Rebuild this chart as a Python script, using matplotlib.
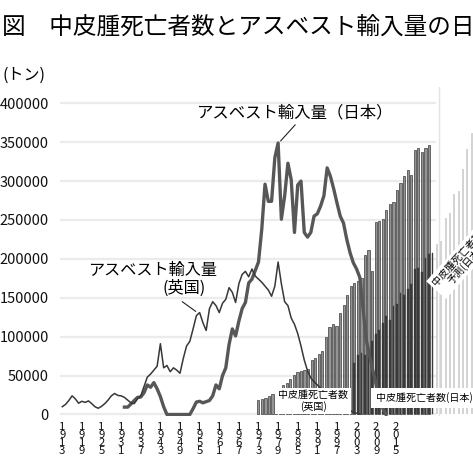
import numpy as np
import matplotlib
matplotlib.use("Agg")
import matplotlib.pyplot as plt

plt.rcParams['font.family'] = ['Noto Sans CJK JP', 'DejaVu Sans']

# ---------- data ----------
uk_import_years = np.arange(1913, 2005)
uk_import = [10000, 13000, 18000, 24000, 20000, 14500, 17000, 15500, 17500, 14000,
             10000, 8000, 10500, 14000, 18500, 24000, 27000, 24500, 24000, 22000,
             18500, 15000, 14000, 20000, 24000, 36000, 48000, 52000, 57000, 62000,
             91000, 60000, 63000, 55000, 60000, 57000, 53000, 72000, 88000, 94000,
             110000, 127000, 131000, 118000, 108000, 136000, 145000, 140000, 131000, 143000,
             148000, 163000, 157000, 144000, 168000, 180000, 184000, 177000, 187000, 178000,
             174000, 170000, 165000, 160000, 152000, 165000, 196000, 168000, 145000, 140000,
             124000, 116000, 104000, 88000, 70000, 56000, 47000, 42000, 38000, 34000,
             30000, 26000, 22000, 18000, 15000, 12000, 9000, 7000, 5000, 3000,
             1500, 500]

jp_import_years = np.arange(1932, 2013)
jp_import = [9500, 9500, 13500, 18000, 22000, 22500, 28000, 38000, 35000, 41000,
             33000, 23000, 10000, 0, 0, 0, 0, 0, 0, 0,
             0, 7500, 16000, 17000, 15000, 16500, 18000, 24000, 38000, 33000,
             50000, 60000, 90000, 110000, 101000, 120000, 136000, 144000, 169000, 174000,
             185000, 196000, 238000, 296000, 274000, 274000, 330000, 349000, 251000, 281000,
             323000, 302000, 234000, 295000, 300000, 234000, 228000, 234000, 255000, 258000,
             268000, 281000, 317000, 306000, 290000, 272000, 255000, 246000, 225000, 208000,
             195000, 187000, 176000, 135000, 95000, 75000, 56000, 38000, 22000, 8000,
             0]

# mesothelioma deaths (bars)
uk_death_years = np.arange(1968, 2017)
uk_deaths = [143, 150, 161, 180, 195, 218, 248, 285, 308, 345,
             383, 405, 420, 431, 439, 525, 548, 585, 615, 750,
             840, 870, 855, 983, 1058, 1155, 1238, 1268, 1290, 1313,
             1538, 1583, 1388, 1860, 1868, 1883, 1973, 2033, 2048, 2160,
             2228, 2303, 2355, 2310, 2550, 2565, 2535, 2565, 2595]

jp_death_years = np.arange(1995, 2018)
jp_deaths = [500, 576, 597, 570, 647, 710, 772, 810, 878, 953,
             911, 1050, 1068, 1170, 1156, 1209, 1258, 1400, 1410, 1376,
             1504, 1550, 1555]

pred_deaths = [1641, 1673, 1898, 1946, 2123, 2154, 2363, 2555, 2716]

yticks = [0, 50000, 100000, 150000, 200000, 250000, 300000, 350000, 400000]
xtick_years = [1913, 1919, 1925, 1931, 1937, 1943, 1949, 1955, 1961, 1967,
               1973, 1979, 1985, 1991, 1997, 2003, 2009, 2015]

# ---------- layout ----------
W, H = 473, 462
DEATH_SCALE = 400000 / 3000      # deaths axis hidden: 3000 deaths == 400000 t
rect = [60 / W, 1 - 416 / H, 413 / W, 329 / H]
YLIM = (-1930, 420950)
PRED_START, PRED_STEP = 2018.3, 1.21

fig = plt.figure(figsize=(W / 100, H / 100), dpi=100)

# base axes: ticks + grid
ax = fig.add_axes(rect, label="base")
ax.set_xlim(1912.3, 2038.6)
ax.set_ylim(*YLIM)
for s in ax.spines.values():
    s.set_visible(False)
for yv in yticks:
    ax.axhline(yv, xmin=0, xmax=0.908, color="#ebebeb", lw=1.6, zorder=0)
ax.axvline(2028.2, color="#e3e3e3", lw=1.0, zorder=0)
ax.set_yticks(yticks)
ax.set_yticklabels([str(v) for v in yticks], fontsize=10.5, color="#111111")
ax.set_xticks(xtick_years)
ax.set_xticklabels(["\n".join(str(y)) for y in xtick_years], fontsize=8.2,
                   linespacing=0.78, color="#111111")
ax.tick_params(length=0)
ax.tick_params(axis="y", pad=8)
ax.tick_params(axis="x", pad=4)

# bar axes (own x scale, deaths y scale)
axb = fig.add_axes(rect, label="bars")
axb.set_xlim(1912.23, 2028.38)
axb.set_ylim(YLIM[0] / DEATH_SCALE, YLIM[1] / DEATH_SCALE)
axb.axis("off")
axb.bar(uk_death_years, uk_deaths, width=0.62, color="#949494",
        edgecolor="#2b2b2b", linewidth=0.45)
axb.bar(jp_death_years, jp_deaths, width=0.5, color="#3a3a3a",
        edgecolor="#3a3a3a", linewidth=0.3)
pred_x = PRED_START + PRED_STEP * np.arange(len(pred_deaths))
axb.bar(pred_x, pred_deaths, width=0.55, color="#d4d4d4", clip_on=False)

# line axes on top
axl = fig.add_axes(rect, label="lines", sharex=ax, sharey=ax)
axl.axis("off")
axl.patch.set_visible(False)
axl.plot(jp_import_years, jp_import, color="#575757", lw=2.4)
axl.plot(uk_import_years, uk_import, color="#383838", lw=1.1)

# labels
axl.text(1984.2, 387500, "アスベスト輸入量（日本）", fontsize=11.8,
         ha="center", va="center")
axl.annotate("", xy=(1979.2, 349000), xytext=(1984.8, 375000),
             arrowprops=dict(arrowstyle="-", lw=0.8, color="#222222"))
axl.text(1940.5, 185700, "アスベスト輸入量", fontsize=11.6, ha="center", va="center")
axl.text(1950.3, 162600, "(英国)", fontsize=11.6, ha="center", va="center")
axl.annotate("", xy=(1954.5, 130400), xytext=(1949.0, 147100),
             arrowprops=dict(arrowstyle="-", lw=0.8, color="#222222"))

box = dict(facecolor="white", edgecolor="none", pad=2.0)
axl.text(1989.7, 17400, "中皮腫死亡者数\n(英国)", fontsize=7.2, ha="center",
         va="center", linespacing=1.05, bbox=box, zorder=10)
axl.text(2023.6, 21200, "中皮腫死亡者数(日本)", fontsize=7.2, ha="center",
         va="center", bbox=dict(facecolor="white", edgecolor="none", pad=3.0),
         zorder=10, clip_on=False)
axl.text(2035.0, 196000, "中皮腫死亡者数\n予測(日本)", fontsize=7.2, ha="center",
         va="center", rotation=48, rotation_mode="anchor", linespacing=1.0,
         bbox=dict(facecolor="white", edgecolor="none", pad=2.0), zorder=10)

fig.text(2 / W, 1 - 27 / H, "図　中皮腫死亡者数とアスベスト輸入量の日英比較",
         fontsize=17, ha="left", va="center")
fig.text(2 / W, 1 - 75 / H, "(トン)", fontsize=11.5, ha="left", va="center")

fig.savefig("out.png", dpi=100)
